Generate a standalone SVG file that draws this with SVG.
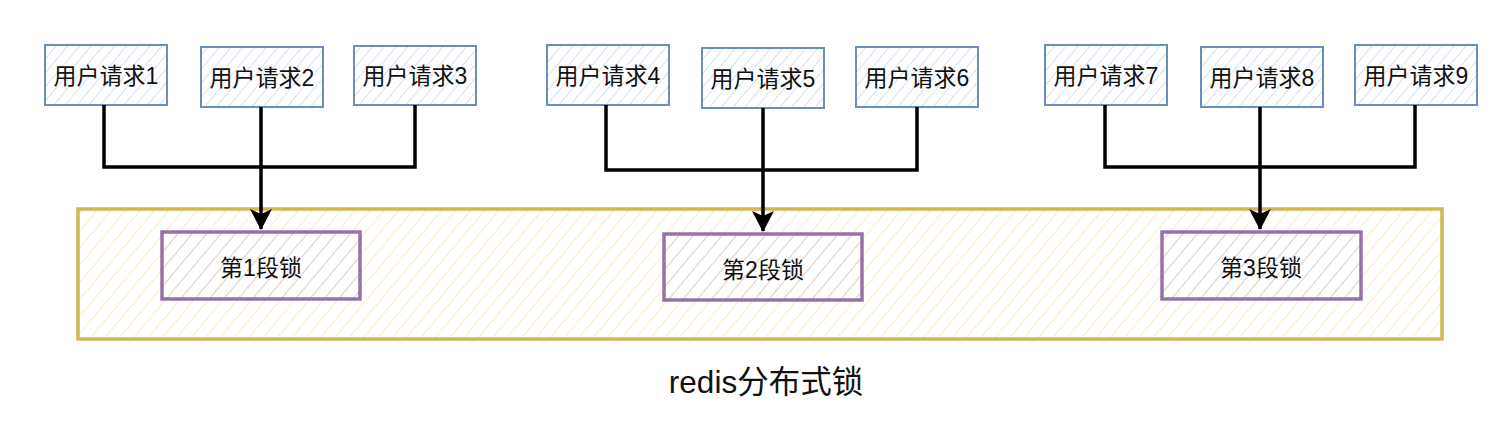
<svg xmlns="http://www.w3.org/2000/svg" width="1510" height="438" viewBox="0 0 1510 438">
<defs>
<pattern id="hb" width="9" height="9" patternUnits="userSpaceOnUse" patternTransform="rotate(40)"><line x1="0" y1="0" x2="0" y2="9" stroke="#b8cde8" stroke-width="1.2"/></pattern>
<pattern id="hy" width="11" height="11" patternUnits="userSpaceOnUse" patternTransform="rotate(40)"><line x1="0" y1="0" x2="0" y2="11" stroke="#f8e3a8" stroke-width="1.4"/></pattern>
<pattern id="hp" width="11" height="11" patternUnits="userSpaceOnUse" patternTransform="rotate(40)"><line x1="0" y1="0" x2="0" y2="11" stroke="#d3c3dc" stroke-width="1.4"/></pattern>
<marker id="arr" viewBox="0 0 21 22" refX="20" refY="11" markerWidth="21" markerHeight="22" orient="auto" markerUnits="userSpaceOnUse"><path d="M0,0 L21,11 L0,22 L5,11 Z" fill="#000"/></marker>
</defs>
<style>
.u rect{fill:url(#hb);stroke:#6c8ebf;stroke-width:2}
.u text{font-family:"Liberation Sans","Noto Sans CJK SC",sans-serif;font-size:23px;fill:#111;text-anchor:middle}
.l rect{fill:url(#hp);stroke:#9673a6;stroke-width:3.5}
.l text{font-family:"Liberation Sans","Noto Sans CJK SC",sans-serif;font-size:23px;fill:#111;text-anchor:middle}
.c path{fill:none;stroke:#000;stroke-width:3.5}
</style>
<g id="redis">
<rect x="78" y="209" width="1364" height="130" fill="url(#hy)" stroke="#d2b655" stroke-width="3.5"/>
<text x="766" y="393" font-family="Liberation Sans,Noto Sans CJK SC,sans-serif" font-size="31.5" fill="#111" text-anchor="middle">redis分布式锁</text>
</g>
<g id="lock1" class="l"><rect x="162" y="232" width="198" height="67"/><text x="261" y="276">第1段锁</text></g>
<g id="lock2" class="l"><rect x="664" y="234" width="198" height="66"/><text x="763" y="278">第2段锁</text></g>
<g id="lock3" class="l"><rect x="1162" y="232" width="199" height="67"/><text x="1261" y="276">第3段锁</text></g>
<g id="u1" class="u"><rect x="45" y="45" width="122" height="60"/><text x="106" y="84">用户请求1</text></g>
<g id="u2" class="u"><rect x="201" y="47" width="122" height="60"/><text x="262" y="86">用户请求2</text></g>
<g id="u3" class="u"><rect x="354" y="46" width="122" height="59"/><text x="415" y="84">用户请求3</text></g>
<g id="u4" class="u"><rect x="547" y="45" width="122" height="60"/><text x="608" y="84">用户请求4</text></g>
<g id="u5" class="u"><rect x="702" y="48" width="122" height="60"/><text x="763" y="87">用户请求5</text></g>
<g id="u6" class="u"><rect x="856" y="47" width="122" height="60"/><text x="917" y="86">用户请求6</text></g>
<g id="u7" class="u"><rect x="1045" y="45" width="122" height="60"/><text x="1106" y="84">用户请求7</text></g>
<g id="u8" class="u"><rect x="1201" y="47" width="122" height="60"/><text x="1262" y="86">用户请求8</text></g>
<g id="u9" class="u"><rect x="1355" y="45" width="122" height="60"/><text x="1416" y="84">用户请求9</text></g>
<g id="connectors" class="c">
<path d="M104,105 V167 H415 V105"/>
<path d="M261,107 V229" marker-end="url(#arr)"/>
<path d="M606,105 V170 H917 V107"/>
<path d="M763,108 V231" marker-end="url(#arr)"/>
<path d="M1105,105 V167 H1415 V105"/>
<path d="M1260,107 V229" marker-end="url(#arr)"/>
</g>
</svg>
